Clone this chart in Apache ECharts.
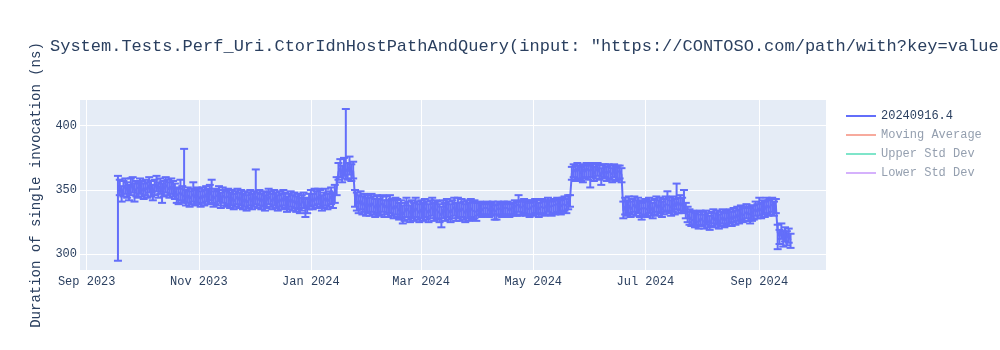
<!DOCTYPE html>
<html>
<head>
<meta charset="utf-8">
<script src="https://cdn.jsdelivr.net/npm/echarts@6/dist/echarts.min.js"></script>
<style>
  html, body { margin: 0; padding: 0; background: #fff; }
  #chart { width: 1000px; height: 350px; }
</style>
</head>
<body>
<div id="chart"></div>
<script>
const titleText = 'System.Tests.Perf_Uri.CtorIdnHostPathAndQuery(input: "https://CONTOSO.com/path/with?key=value';
const yAxisTitle = 'Duration of single invocation (ns)';
const seriesName = '20240916.4';
const hiddenNames = ['Moving Average', 'Upper Std Dev', 'Lower Std Dev'];

const xTickDates = ['2023-09-01', '2023-11-01', '2024-01-01', '2024-03-01', '2024-05-01', '2024-07-01', '2024-09-01'];
const xTickLabels = ['Sep 2023', 'Nov 2023', 'Jan 2024', 'Mar 2024', 'May 2024', 'Jul 2024', 'Sep 2024'];
const yTickValues = [300, 350, 400];
const xRange = ['2023-08-28T08:24:00', '2024-10-07T07:00:00'];
const yRange = [287.8, 420];

const dates = [
  '2023-09-18','2023-09-19','2023-09-20','2023-09-21','2023-09-22','2023-09-23','2023-09-24','2023-09-25','2023-09-26','2023-09-27','2023-09-28','2023-09-29','2023-09-30',
  '2023-10-01','2023-10-02','2023-10-03','2023-10-04','2023-10-05','2023-10-06','2023-10-07','2023-10-08','2023-10-09','2023-10-10','2023-10-11','2023-10-12','2023-10-13','2023-10-14','2023-10-15','2023-10-16','2023-10-17','2023-10-18','2023-10-19','2023-10-20','2023-10-21','2023-10-22','2023-10-23','2023-10-24','2023-10-25','2023-10-26','2023-10-27','2023-10-28','2023-10-29','2023-10-30','2023-10-31',
  '2023-11-01','2023-11-02','2023-11-03','2023-11-04','2023-11-05','2023-11-06','2023-11-07','2023-11-08','2023-11-09','2023-11-10','2023-11-11','2023-11-12','2023-11-13','2023-11-14','2023-11-15','2023-11-16','2023-11-17','2023-11-18','2023-11-19','2023-11-20','2023-11-21','2023-11-22','2023-11-23','2023-11-24','2023-11-25','2023-11-26','2023-11-27','2023-11-28','2023-11-29','2023-11-30',
  '2023-12-01','2023-12-02','2023-12-03','2023-12-04','2023-12-05','2023-12-06','2023-12-07','2023-12-08','2023-12-09','2023-12-10','2023-12-11','2023-12-12','2023-12-13','2023-12-14','2023-12-15','2023-12-16','2023-12-17','2023-12-18','2023-12-19','2023-12-20','2023-12-21','2023-12-22','2023-12-23','2023-12-24','2023-12-25','2023-12-26','2023-12-27','2023-12-28','2023-12-29','2023-12-30','2023-12-31',
  '2024-01-01','2024-01-02','2024-01-03','2024-01-04','2024-01-05','2024-01-06','2024-01-07','2024-01-08','2024-01-09','2024-01-10','2024-01-11','2024-01-12','2024-01-13','2024-01-14','2024-01-15','2024-01-16','2024-01-17','2024-01-18','2024-01-19','2024-01-20','2024-01-21','2024-01-22','2024-01-23','2024-01-24','2024-01-25','2024-01-26','2024-01-27','2024-01-28','2024-01-29','2024-01-30','2024-01-31',
  '2024-02-01','2024-02-02','2024-02-03','2024-02-04','2024-02-05','2024-02-06','2024-02-07','2024-02-08','2024-02-09','2024-02-10','2024-02-11','2024-02-12','2024-02-13','2024-02-14','2024-02-15','2024-02-16','2024-02-17','2024-02-18','2024-02-19','2024-02-20','2024-02-21','2024-02-22','2024-02-23','2024-02-24','2024-02-25','2024-02-26','2024-02-27','2024-02-28','2024-02-29',
  '2024-03-01','2024-03-02','2024-03-03','2024-03-04','2024-03-05','2024-03-06','2024-03-07','2024-03-08','2024-03-09','2024-03-10','2024-03-11','2024-03-12','2024-03-13','2024-03-14','2024-03-15','2024-03-16','2024-03-17','2024-03-18','2024-03-19','2024-03-20','2024-03-21','2024-03-22','2024-03-23','2024-03-24','2024-03-25','2024-03-26','2024-03-27','2024-03-28','2024-03-29','2024-03-30','2024-03-31',
  '2024-04-01','2024-04-02','2024-04-03','2024-04-04','2024-04-05','2024-04-06','2024-04-07','2024-04-08','2024-04-09','2024-04-10','2024-04-11','2024-04-12','2024-04-13','2024-04-14','2024-04-15','2024-04-16','2024-04-17','2024-04-18','2024-04-19','2024-04-20','2024-04-21','2024-04-22','2024-04-23','2024-04-24','2024-04-25','2024-04-26','2024-04-27','2024-04-28','2024-04-29','2024-04-30',
  '2024-05-01','2024-05-02','2024-05-03','2024-05-04','2024-05-05','2024-05-06','2024-05-07','2024-05-08','2024-05-09','2024-05-10','2024-05-11','2024-05-12','2024-05-13','2024-05-14','2024-05-15','2024-05-16','2024-05-17','2024-05-18','2024-05-19','2024-05-20','2024-05-21','2024-05-22','2024-05-23','2024-05-24','2024-05-25','2024-05-26','2024-05-27','2024-05-28','2024-05-29','2024-05-30','2024-05-31',
  '2024-06-01','2024-06-02','2024-06-03','2024-06-04','2024-06-05','2024-06-06','2024-06-07','2024-06-08','2024-06-09','2024-06-10','2024-06-11','2024-06-12','2024-06-13','2024-06-14','2024-06-15','2024-06-16','2024-06-17','2024-06-18','2024-06-19','2024-06-20','2024-06-21','2024-06-22','2024-06-23','2024-06-24','2024-06-25','2024-06-26','2024-06-27','2024-06-28','2024-06-29','2024-06-30',
  '2024-07-01','2024-07-02','2024-07-03','2024-07-04','2024-07-05','2024-07-06','2024-07-07','2024-07-08','2024-07-09','2024-07-10','2024-07-11','2024-07-12','2024-07-13','2024-07-14','2024-07-15','2024-07-16','2024-07-17','2024-07-18','2024-07-19','2024-07-20','2024-07-21','2024-07-22','2024-07-23','2024-07-24','2024-07-25','2024-07-26','2024-07-27','2024-07-28','2024-07-29','2024-07-30','2024-07-31',
  '2024-08-01','2024-08-02','2024-08-03','2024-08-04','2024-08-05','2024-08-06','2024-08-07','2024-08-08','2024-08-09','2024-08-10','2024-08-11','2024-08-12','2024-08-13','2024-08-14','2024-08-15','2024-08-16','2024-08-17','2024-08-18','2024-08-19','2024-08-20','2024-08-21','2024-08-22','2024-08-23','2024-08-24','2024-08-25','2024-08-26','2024-08-27','2024-08-28','2024-08-29','2024-08-30','2024-08-31',
  '2024-09-01','2024-09-02','2024-09-03','2024-09-04','2024-09-05','2024-09-06','2024-09-07','2024-09-08','2024-09-09','2024-09-10','2024-09-11','2024-09-12','2024-09-13','2024-09-14','2024-09-15','2024-09-16','2024-09-17','2024-09-18'
];

const values = [
  349,352,347,351,353,350,348,352,354,349,351,350,353,
  351,349,352,350,354, 351,348,352,355,350, 353,349,351,354,352, 350,353,351,349,346, 345,348,346,347,344, 346,343,345,347,344,346,
  345,343,346,344,347, 345,348,346,343,345, 344,347,342,346,344, 343,345,342,344,341, 343,345,342,344,341, 343,340,342,344,341,
  343,345,342,344,341, 343,340,342,345,343, 341,344,342,340,343, 341,344,342,339,341, 343,340,342,339,341, 338,340,342,336,338,341,
  343,341,344,342,345, 343,340,342,344,341, 343,345,342,346,352, 364,367,362,368,366, 364,369,363,365,344, 341,339,342,338,340,337,
  339,337,340,338,336, 339,337,338,340,336, 338,336,339,337,335, 338,336,334,335,331, 333,336,334,332,335, 333,336,334,332,
  335,333,336,334,332, 335,337,333,335,334, 332,330,335,333,336, 334,332,335,337,333, 335,333,336,334,332, 335,333,336,334,335,333,
  335,336,334,336,335, 336,334,335,336,333, 334,336,335,334,336, 335,336,334,336,335, 337,336,339,336,337, 338,336,337,335,337,
  336,338,337,335,337, 338,336,337,339,337, 336,338,337,339,338, 337,339,340,338,341, 343,363,366,364,367, 365,363,366,364,367,365,
  364,366,363,365,367, 364,362,365,366,363, 365,364,362,366,363, 364,365,362, 334,337, 336,338,335,337,339, 336,338,335,334,336,
  337,335,338,336,334, 337,339,336,338,335, 337,339,340,338,336, 339,337,341,338,340, 338,339,334,331,329, 327,328,326,327,325,328,
  327,325,328,326,324, 327,329,326,328,325, 327,329,326,328,327, 329,327,330,328,331, 329,332,330,331,333, 331,330,332,332,335,333,
  336,334,337,335,338, 336,337,339,336,338, 317,314,318,312,316, 313,315,311
];

const upper = [
  361,358,353,357,359,356,354,359,360,355,357,356,359,
  357,355,358,356,360, 357,354,358,361,356, 359,355,357,360,358, 356,359,357,355,352, 351,358,353,382,350, 352,349,351,356,350,352,
  351,349,352,350,353, 351,354,358,349,351, 350,353,348,352,350, 349,351,348,350,347, 349,351,348,350,347, 349,346,348,350,347,
  349,366,348,350,347, 349,346,348,351,349, 347,350,348,346,349, 347,350,348,345,347, 349,346,348,345,347, 344,346,348,343,344,347,
  350,347,351,349,351, 350,346,348,351,347, 349,352,348,354,360, 371,374,369,375,413, 371,376,370,372,350, 348,346,349,345,347,344,
  346,344,347,345,343, 346,343,345,346,342, 345,342,346,343,342, 344,343,340,342,338, 340,344,341,338,342, 340,344,341,339,
  342,340,343,341,339, 342,344,340,342,341, 339,337,342,340,343, 341,339,342,344,340, 344,340,343,341,339, 342,340,343,341,342,340,
  340,341,339,340,340, 341,339,340,341,338, 339,341,340,339,341, 340,341,339,340,340, 342,341,346,341,342, 343,341,342,340,342,
  341,343,342,340,342, 343,341,342,344,342, 341,343,342,344,343, 342,344,345,343,346, 346,368,370,369,371, 369,368,370,369,371,370,
  369,371,368,370,371, 369,367,370,370,368, 370,369,367,370,368, 369,369,367, 341,344, 342,345,341,343,345, 342,344,341,340,342,
  343,341,344,342,340, 343,345,342,344,341, 343,345,349,344,342, 345,343,355,344,346, 344,350,340,337,335, 333,334,332,333,331,334,
  333,331,334,332,330, 333,335,332,334,331, 333,335,332,334,333, 335,333,336,334,337, 335,338,336,337,339, 337,336,338,338,341,339,
  344,340,342,341,344, 342,343,344,341,343, 323,319,324,318,321, 318,320,316
];

const lower = [
  295,346,341,345,347,344,342,346,348,341,345,344,347,
  345,343,346,344,348, 345,342,346,349,344, 347,340,345,348,346, 344,347,345,343,340, 339,342,340,341,338, 340,337,339,341,338,340,
  339,337,340,338,341, 339,342,340,337,339, 338,341,336,340,338, 337,339,336,338,335, 337,339,336,338,335, 337,334,336,338,335,
  337,339,336,338,335, 337,334,336,339,337, 335,338,336,334,337, 335,338,336,333,335, 337,334,336,333,335, 332,334,336,329,332,335,
  337,335,338,336,339, 337,334,336,338,335, 337,339,336,340,346, 358,360,356,361,359, 358,362,357,359,337, 334,332,335,331,333,330,
  332,330,333,331,329, 332,330,331,333,329, 331,329,332,330,328, 331,329,327,328,324, 326,329,327,325,328, 326,329,327,325,
  328,326,329,327,325, 328,330,326,328,327, 325,321,328,326,329, 327,325,328,330,326, 328,326,329,327,325, 328,326,329,327,328,326,
  330,331,329,331,330, 331,329,330,331,327, 327,331,330,329,331, 330,331,329,331,330, 331,330,333,330,331, 332,330,331,329,331,
  330,332,331,329,331, 332,330,331,333,331, 330,332,331,333,332, 331,333,334,332,335, 337,358,360,357,359, 358,357,356,359,360,358,
  352,360,357,359,361, 358,354,359,360,357, 359,358,356,360,357, 358,359,356, 328,331, 330,332,329,331,333, 330,332,329,327,330,
  331,329,332,330,328, 331,333,330,332,329, 331,333,334,332,330, 333,331,335,332,334, 332,333,328,325,323, 322,323,321,322,320,323,
  322,320,323,321,319, 322,324,321,323,320, 322,324,321,323,322, 324,322,325,323,326, 324,327,325,326,328, 326,324,326,327,330,328,
  330,328,331,329,332, 330,331,333,330,332, 304,308,312,306,310, 307,309,305
];

const FONT = "'Liberation Mono', 'DejaVu Sans Mono', monospace";
const TXT = '#2a3f5f';
const MAIN = '#636efa';

const chart = echarts.init(document.getElementById('chart'), null, { renderer: 'canvas' });
const parse = s => echarts.number.parseDate(s).getTime();
const xTickTs = xTickDates.map(parse);
const dateTs = dates.map(parse);

const lineData = dateTs.map((t, i) => [t, values[i]]);
const errData = dateTs.map((t, i) => [t, upper[i], lower[i]]);

function renderErr(params, api) {
  const x = api.value(0);
  const pHi = api.coord([x, api.value(1)]);
  const pLo = api.coord([x, api.value(2)]);
  const hw = 4;
  const st = { stroke: MAIN, lineWidth: 2, fill: null };
  return {
    type: 'group',
    children: [
      { type: 'line', shape: { x1: pHi[0], y1: pHi[1], x2: pLo[0], y2: pLo[1] }, style: st },
      { type: 'line', shape: { x1: pHi[0] - hw, y1: pHi[1], x2: pHi[0] + hw, y2: pHi[1] }, style: st },
      { type: 'line', shape: { x1: pLo[0] - hw, y1: pLo[1], x2: pLo[0] + hw, y2: pLo[1] }, style: st }
    ]
  };
}

const hiddenColors = ['rgba(239,85,59,0.5)', 'rgba(0,204,150,0.5)', 'rgba(171,99,250,0.5)'];

const option = {
  animation: false,
  backgroundColor: '#ffffff',
  textStyle: { fontFamily: FONT },
  title: {
    text: titleText,
    left: 50,
    top: 38,
    padding: 0,
    textStyle: { fontFamily: FONT, fontSize: 17, fontWeight: 'normal', color: TXT }
  },
  legend: {
    orient: 'vertical',
    left: 846,
    top: 109,
    padding: 0,
    itemWidth: 30,
    itemHeight: 2,
    itemGap: 5,
    icon: 'rect',
    textStyle: { fontFamily: FONT, fontSize: 12, color: TXT, lineHeight: 14 },
    data: [
      { name: seriesName },
      { name: hiddenNames[0], textStyle: { color: '#949faf' } },
      { name: hiddenNames[1], textStyle: { color: '#949faf' } },
      { name: hiddenNames[2], textStyle: { color: '#949faf' } }
    ],
    selectedMode: false
  },
  grid: {
    left: 80, right: 174, top: 100, bottom: 80,
    show: true, backgroundColor: '#E5ECF6', borderWidth: 0,
    containLabel: false, outerBoundsMode: 'none'
  },
  xAxis: {
    type: 'value',
    min: parse(xRange[0]),
    max: parse(xRange[1]),
    axisLine: { show: false },
    axisTick: { show: false, customValues: xTickTs },
    axisLabel: {
      customValues: xTickTs,
      margin: 6,
      fontFamily: FONT, fontSize: 12, color: TXT,
      formatter: function (v) {
        const k = xTickTs.indexOf(v);
        return k >= 0 ? xTickLabels[k] : '';
      }
    },
    splitLine: { show: true, lineStyle: { color: '#ffffff', width: 1 } }
  },
  yAxis: {
    type: 'value',
    min: yRange[0],
    max: yRange[1],
    name: yAxisTitle,
    nameLocation: 'middle',
    nameGap: 37,
    nameTextStyle: { fontFamily: FONT, fontSize: 14, color: TXT },
    axisLine: { show: false },
    axisTick: { show: false, customValues: yTickValues },
    axisLabel: { customValues: yTickValues, margin: 3, fontFamily: FONT, fontSize: 12, color: TXT },
    splitLine: { show: true, lineStyle: { color: '#ffffff', width: 1 } }
  },
  series: [
    {
      name: seriesName,
      type: 'line',
      data: lineData,
      showSymbol: false,
      symbol: 'none',
      color: MAIN,
      lineStyle: { color: MAIN, width: 2 },
      z: 3
    },
    {
      name: seriesName,
      type: 'custom',
      data: errData,
      renderItem: renderErr,
      encode: { x: 0, y: [1, 2] },
      color: MAIN,
      z: 2
    },
    { name: hiddenNames[0], type: 'line', data: [], color: hiddenColors[0], lineStyle: { color: hiddenColors[0] } },
    { name: hiddenNames[1], type: 'line', data: [], color: hiddenColors[1], lineStyle: { color: hiddenColors[1] } },
    { name: hiddenNames[2], type: 'line', data: [], color: hiddenColors[2], lineStyle: { color: hiddenColors[2] } }
  ]
};
chart.setOption(option);
</script>
</body>
</html>
